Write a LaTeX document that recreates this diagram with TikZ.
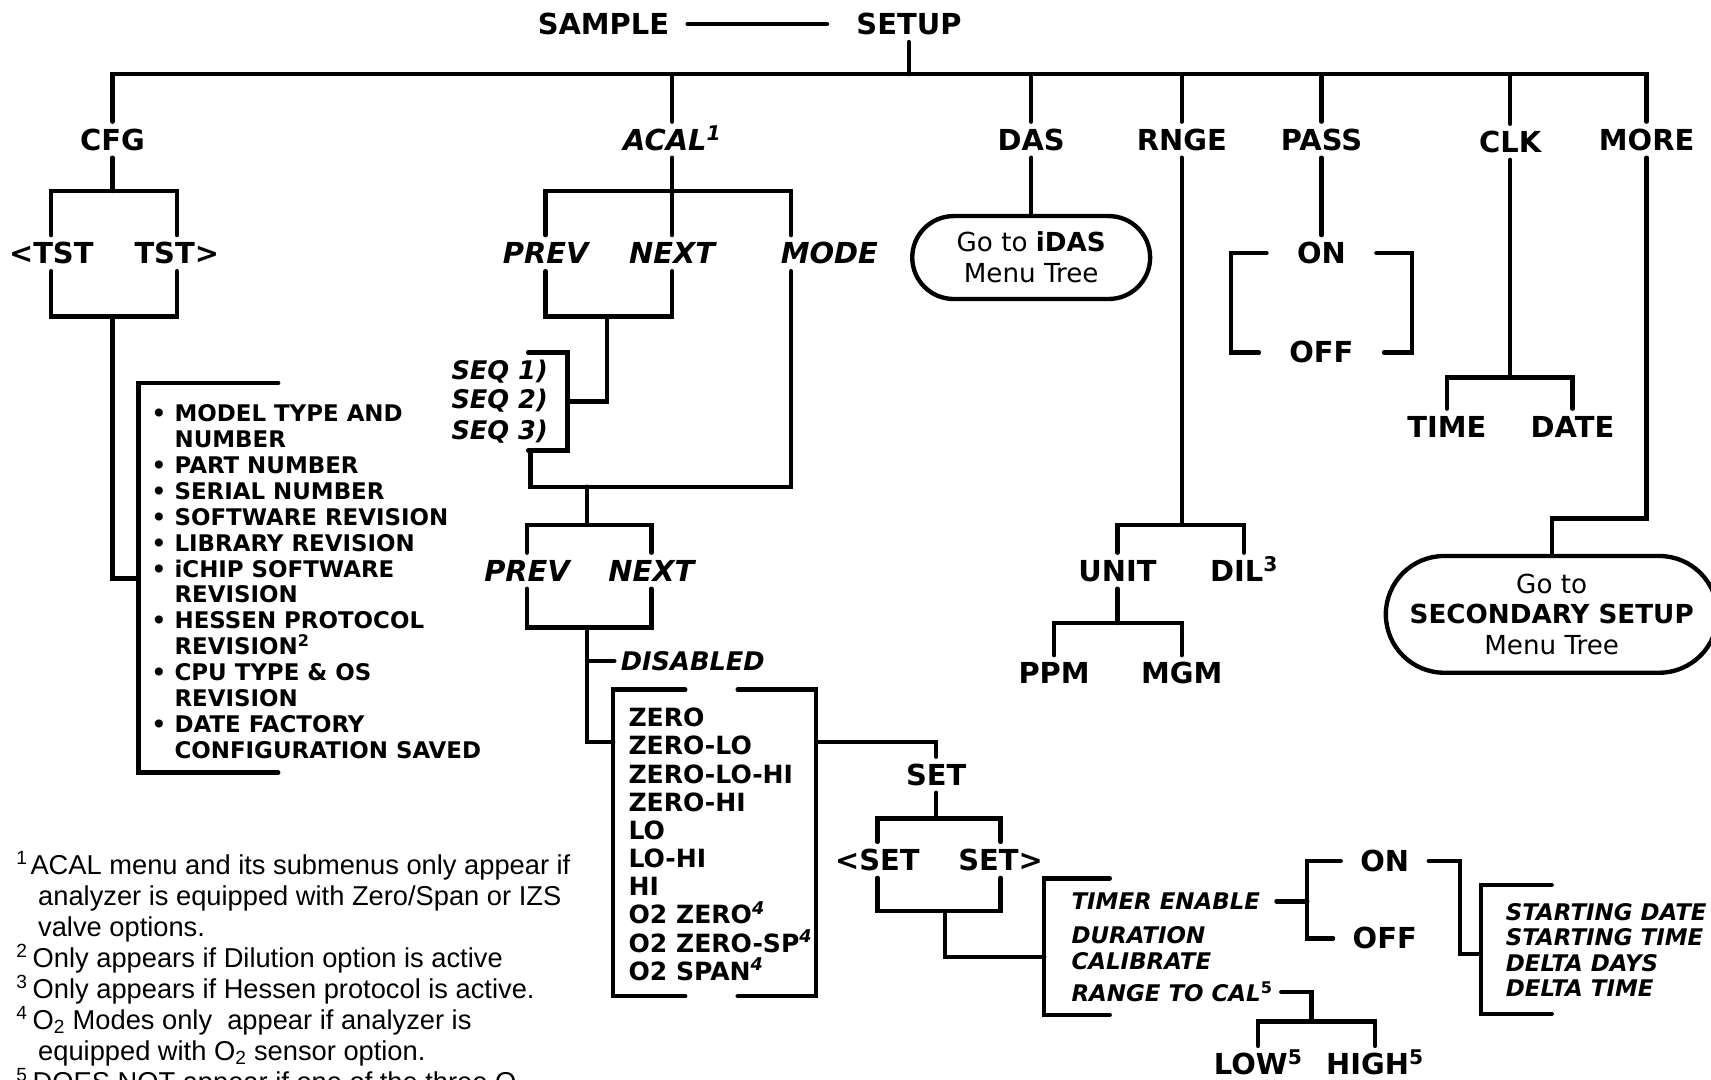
\documentclass[tikz,border=0pt]{standalone}
\usepackage{fontspec}
\setmainfont{DejaVu Sans}[ItalicFont={DejaVu Sans Oblique},BoldFont={DejaVu Sans Bold},BoldItalicFont={DejaVu Sans Bold Oblique}]
\newfontfamily\notefont{Liberation Sans}
\usetikzlibrary{shapes.misc}
\newcommand{\itm}{\makebox[21pt][l]{\textbullet}}
\newcommand{\cnt}{\hspace*{21pt}}

\begin{document}
\begin{tikzpicture}[x=1pt, y=-1pt, line width=4pt, line cap=round,
  lbl/.style={font=\bfseries\fontsize{26.5}{30}\selectfont, inner sep=5pt, text height=19pt, text depth=0pt},
  ilbl/.style={lbl, font=\bfseries\itshape\fontsize{26.5}{30}\selectfont},
  seqtxt/.style={font=\bfseries\itshape\fontsize{23.5}{26}\selectfont, inner sep=2pt, anchor=east},
  tmrtxt/.style={font=\bfseries\itshape\fontsize{21}{24}\selectfont, inner sep=3pt, anchor=west},
  listtxt/.style={font=\bfseries\fontsize{21}{23.7}\selectfont, align=left, inner sep=0pt, anchor=north west},
  modetxt/.style={font=\bfseries\fontsize{23}{25.8}\selectfont, align=left, inner sep=0pt, anchor=north west},
  gobox/.style={draw, rounded rectangle, align=center, inner sep=0pt, font=\fontsize{24}{28.3}\selectfont},
  note/.style={font=\notefont\fontsize{25}{28.4}\selectfont, align=left, inner sep=0pt, anchor=north west}
]
\useasboundingbox (0,0) rectangle (1568,989);

\node[lbl] (sample) at (553,22) {SAMPLE};
\node[lbl] (setup) at (833,22) {SETUP};

\node[lbl] (cfg) at (103,128) {CFG};
\node[ilbl] (acal) at (616,128) {ACAL\textsuperscript{1}};
\node[lbl] (das) at (945,128) {DAS};
\node[lbl] (rnge) at (1083,128) {RNGE};
\node[lbl] (pass) at (1211,128) {PASS};
\node[lbl] (clk) at (1384,130) {CLK};
\node[lbl] (more) at (1509,128) {MORE};

\node[lbl] (ltst) at (47,232) {\textless TST};
\node[lbl] (rtst) at (162,232) {TST\textgreater};
\node[listtxt] (info) at (137,369) {\itm MODEL TYPE AND\\\cnt NUMBER\\\itm PART NUMBER\\\itm SERIAL NUMBER\\
  \itm SOFTWARE REVISION\\\itm LIBRARY REVISION\\\itm iCHIP SOFTWARE\\\cnt REVISION\\
  \itm HESSEN PROTOCOL\\\cnt REVISION\textsuperscript{2}\\\itm CPU TYPE \& OS\\\cnt REVISION\\
  \itm DATE FACTORY\\\cnt CONFIGURATION SAVED};

\node[ilbl] (prev1) at (500,232) {PREV};
\node[ilbl] (next1) at (616,232) {NEXT};
\node[ilbl] (mode) at (760,232) {MODE};
\node[seqtxt] (seq1) at (506,341) {SEQ 1)};
\node[seqtxt] (seq2) at (506,367) {SEQ 2)};
\node[seqtxt] (seq3) at (506,396) {SEQ 3)};
\node[ilbl] (prev2) at (483,523) {PREV};
\node[ilbl] (next2) at (597,523) {NEXT};
\node[font=\bfseries\itshape\fontsize{23.5}{26}\selectfont, inner sep=4pt, anchor=west] (disabled) at (563,606) {DISABLED};
\node[modetxt] (modes) at (574,647) {ZERO\\ZERO-LO\\ZERO-LO-HI\\ZERO-HI\\LO\\LO-HI\\HI\\
  O2 ZERO\textsuperscript{\itshape 4}\\O2 ZERO-SP\textsuperscript{\itshape 4}\\O2 SPAN\textsuperscript{\itshape 4}};

\node[lbl] (set) at (858,710) {SET};
\node[lbl] (lset) at (804,788) {\textless SET};
\node[lbl] (rset) at (917,788) {SET\textgreater};
\node[tmrtxt] (tmren) at (977,826) {TIMER ENABLE};
\node[tmrtxt] (durat) at (977,857) {DURATION};
\node[tmrtxt] (calib) at (977,881) {CALIBRATE};
\node[tmrtxt] (rngcal) at (977,909) {RANGE TO CAL\textsuperscript{\upshape 5}};
\node[lbl, inner xsep=16pt] (on2) at (1269,789) {ON};
\node[lbl, inner xsep=16pt] (off2) at (1269,860) {OFF};
\node[font=\bfseries\itshape\fontsize{21}{23.3}\selectfont, align=left, inner sep=0pt, anchor=north west] (start) at (1378,826)
  {STARTING DATE\\STARTING TIME\\DELTA DAYS\\DELTA TIME};
\node[lbl] (low) at (1153,975) {LOW\textsuperscript{5}};
\node[lbl] (high) at (1260,975) {HIGH\textsuperscript{5}};

\node[gobox, minimum width=218pt, minimum height=76pt] (idas) at (945,236) {Go to \textbf{iDAS}\\Menu Tree};
\node[lbl] (unit) at (1024,523) {UNIT};
\node[lbl] (dil) at (1140,523) {DIL\textsuperscript{3}};
\node[lbl] (ppm) at (966,617) {PPM};
\node[lbl] (mgm) at (1083,617) {MGM};
\node[lbl, inner xsep=26pt] (on1) at (1211,232) {ON};
\node[lbl, inner xsep=26pt] (off1) at (1211,323) {OFF};
\node[lbl] (time) at (1326,391) {TIME};
\node[lbl] (date) at (1441,391) {DATE};
\node[gobox, minimum width=304pt, minimum height=107pt] (secsetup) at (1422,563) {Go to\\\textbf{SECONDARY SETUP}\\Menu Tree};

\node[note] (notes) at (13,778) {\makebox[13pt][l]{\textsuperscript{1}}ACAL menu and its submenus only appear if\\
  \hspace*{20pt}analyzer is equipped with Zero/Span or IZS\\
  \hspace*{20pt}valve options.\\
  \makebox[15pt][l]{\textsuperscript{2}}Only appears if Dilution option is active\\
  \makebox[15pt][l]{\textsuperscript{3}}Only appears if Hessen protocol is active.\\
  \makebox[15pt][l]{\textsuperscript{4}}O\textsubscript{2} Modes only\ \ appear if analyzer is\\
  \hspace*{20pt}equipped with O\textsubscript{2} sensor option.\\
  \makebox[15pt][l]{\textsuperscript{5}}DOES NOT appear if one of the three O};

\coordinate (topbar) at (0,68);
\coordinate (cfgbar) at (103,175);
\coordinate (tstbar) at (103,290);
\coordinate (infojoin) at (127,530);
\coordinate (acalbar) at (616,175);
\coordinate (modex) at (725,0);
\coordinate (pnbar) at (556,290);
\coordinate (seqjoin) at (520,368);
\coordinate (seqout) at (486,413);
\coordinate (modebar) at (538,446);
\coordinate (pn2top) at (538,481);
\coordinate (pn2bot) at (538,575);
\coordinate (modejoin) at (562,680);
\coordinate (setjoin) at (748,680);
\coordinate (setbar) at (858,750);
\coordinate (setbot) at (866,835);
\coordinate (timerjoin) at (957,877);
\coordinate (onoffjoin) at (1198,826);
\coordinate (startbend) at (1338,874);
\coordinate (startjoin) at (1357,874);
\coordinate (rangebar) at (1202,936);
\coordinate (unitbar) at (1083,481);
\coordinate (ppmbar) at (1024,571);
\coordinate (passL) at (1128,280);
\coordinate (passR) at (1294,280);
\coordinate (clkbar) at (1384,346);
\coordinate (morebend) at (1509,475);

\draw[shorten <=10pt, shorten >=20pt] (sample) -- (setup);
\draw (setup) -- (setup |- topbar);
\draw (cfg) -- (cfg |- topbar) -- (more |- topbar) -- (more);
\foreach \n in {acal,das,rnge,pass,clk}
  \draw (\n) -- (\n |- topbar);

\draw (cfg) -- (cfgbar);
\draw (ltst) -- (ltst |- cfgbar) -- (rtst |- cfgbar) -- (rtst);
\draw (ltst) -- (ltst |- tstbar) -- (rtst |- tstbar) -- (rtst);
\draw (tstbar) |- (infojoin);
\draw (255,351) -- (127,351) -- (127,708) -- (255,708);

\draw (acal) -- (next1);
\draw (prev1) -- (prev1 |- acalbar) -- (modex |- acalbar) -- (modex |- mode.north);
\draw (prev1) -- (prev1 |- pnbar) -- (next1 |- pnbar) -- (next1);
\draw (pnbar) |- (seqjoin);
\draw (484,323) -- (520,323) -- (520,413) -- (484,413);
\draw (seqout) |- (modex |- modebar) -- (modex |- mode.south);
\draw (modebar) -- (pn2top);
\draw (prev2) -- (prev2 |- pn2top) -- (next2 |- pn2top) -- (next2);
\draw (prev2) -- (prev2 |- pn2bot) -- (next2 |- pn2bot) -- (next2);
\draw (pn2bot) |- (modejoin);
\draw (pn2bot |- disabled) -- (disabled);
\draw (628,632) -- (562,632) -- (562,913) -- (628,913);
\draw (676,632) -- (748,632) -- (748,913) -- (676,913);

\draw (setjoin) -| (set);
\draw (set) -- (setbar);
\draw (lset) -- (lset |- setbar) -- (rset |- setbar) -- (rset);
\draw (lset) -- (lset |- setbot) -- (rset |- setbot) -- (rset);
\draw (setbot) |- (timerjoin);
\draw (1017,805) -- (957,805) -- (957,930) -- (1017,930);
\draw[shorten <=10pt] (tmren) -- (onoffjoin);
\draw (on2) -| (onoffjoin) |- (off2);
\draw (on2) -| (startbend) -- (startjoin);
\draw (1422,811) -- (1357,811) -- (1357,929) -- (1422,929);
\draw[shorten <=3pt] (rngcal) -| (rangebar);
\draw (low) -- (low |- rangebar) -- (high |- rangebar) -- (high);

\draw (das) -- (idas);
\draw (rnge) -- (unitbar);
\draw (unit) -- (unit |- unitbar) -- (dil |- unitbar) -- (dil);
\draw (unit) -- (ppmbar);
\draw (ppm) -- (ppm |- ppmbar) -- (mgm |- ppmbar) -- (mgm);
\draw (pass) -- (on1);
\draw (on1) -| (passL) |- (off1);
\draw (on1) -| (passR) |- (off1);
\draw (clk) -- (clkbar);
\draw (time) -- (time |- clkbar) -- (date |- clkbar) -- (date);
\draw (more) -- (morebend) -| (secsetup);
\end{tikzpicture}
\end{document}
